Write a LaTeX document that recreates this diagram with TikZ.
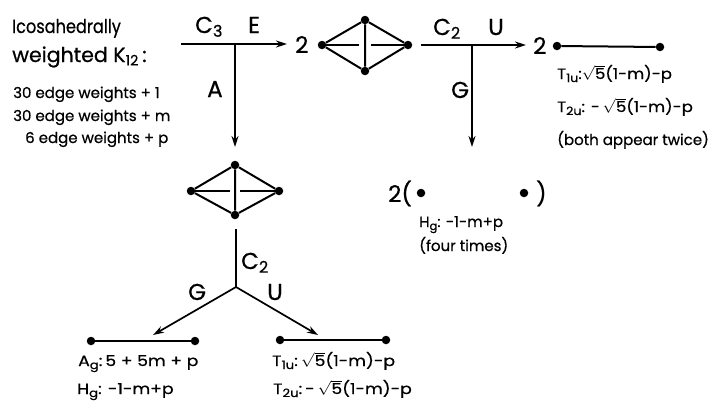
\documentclass[tikz,border=0pt]{standalone}
\usepackage{fontspec}
\setmainfont{Poppins}[FakeBold=0.6]
\usetikzlibrary{arrows.meta}
\tikzset{
  px/.style={x=1pt,y=-1pt},
  vtx/.style={circle,fill=black,inner sep=0pt,minimum size=8.5pt},
  ln/.style={line width=2pt,black},
  arr/.style={line width=1.7pt,black,-{Stealth[length=11pt,width=7pt]}},
  big/.style={font=\fontsize{23}{25}\selectfont,inner sep=0pt,anchor=base west},
  head/.style={font=\fontsize{20.5}{22}\selectfont,inner sep=0pt,anchor=base west},
  headb/.style={font=\fontsize{19}{22}\selectfont,inner sep=0pt,anchor=base west},
  small/.style={font=\fontsize{15}{17}\selectfont,inner sep=0pt,anchor=base west},
}
\newcommand{\rtfive}{$\sqrt{\mathrm{5}}$}
\newcommand{\subt}[1]{\raisebox{-3pt}{\fontsize{11.5}{12}\selectfont #1}}
\newcommand{\wideA}[1]{\scalebox{1.1}[1]{#1}}
\newcommand{\wideB}[1]{\scalebox{1.15}[1]{#1}}
\begin{document}
\begin{tikzpicture}[px]
\useasboundingbox (0,0) rectangle (711,400);
% left text
\node[headb] (t1) at (12,33) {\scalebox{0.85}[1]{Icosahedrally}};
\node[head] (t2) at (12,62) {weighted K$_{\mathrm{12}}$\,:};
\node[small] (w1) at (13,98) {30 edge weights + 1};
\node[small] (w2) at (13,121) {30 edge weights + m};
\node[small] (w3) at (25,143) {6 edge weights + p};
% C3 fork
\coordinate (s1) at (181,44);
\coordinate (j1) at (235,44);
\coordinate (e1) at (287,44);
\coordinate (d1) at (235,147);
\draw[arr] (s1) -- (e1);
\draw[arr] (j1) -- (d1);
\node[big] (c3) at (195,33) {C$_{\mathrm{3}}$};
\node[big] (E) at (248,33) {E};
\node[big] (A) at (207,97) {A};
\node[big] (two1) at (295,53) {2};
% top graph
\node[vtx] (a1) at (322,45) {};
\node[vtx] (a2) at (365,20) {};
\node[vtx] (a3) at (408,45) {};
\node[vtx] (a4) at (365,71) {};
\draw[ln] (a1)--(a2)--(a3)--(a4)--(a1) (a2)--(a4);
\coordinate (ag1) at (359,45);
\coordinate (ag2) at (371,45);
\draw[ln] (a1)--(ag1) (ag2)--(a3);
% C2 fork
\coordinate (s2) at (421,45);
\coordinate (j2) at (472,45);
\coordinate (e2) at (526,45);
\coordinate (d2) at (472,147);
\draw[arr] (s2) -- (e2);
\draw[arr] (j2) -- (d2);
\node[big] (c2a) at (433,35) {C$_{\mathrm{2}}$};
\node[big] (U1) at (488,35) {U};
\node[big] (G1) at (451,98) {G};
\node[big] (two2) at (533,54) {2};
% right edge
\node[vtx] (b1) at (557,46) {};
\node[vtx] (b2) at (660,47) {};
\draw[ln] (b1)--(b2);
\node[small] (r1) at (557,79) {\wideA{T\subt{1u}:\rtfive(1-m)-p}};
\node[small] (r2) at (557,112) {\wideA{T\subt{2u}: -\,\rtfive(1-m)-p}};
\node[small] (r3) at (557,145) {(both appear twice)};
% dots
\node[big] (two3) at (388,202) {2(};
\node[vtx] (c1) at (421,193) {};
\node[vtx] (c2) at (524,193) {};
\node[big] (cp) at (536,202) {)};
\node[small] (h1) at (419,227) {H\subt{g}: -1-m+p};
\node[small] (h2) at (419,251) {(four times)};
% mid graph
\node[vtx] (m1) at (191,191) {};
\node[vtx] (m2) at (235,165) {};
\node[vtx] (m3) at (279,191) {};
\node[vtx] (m4) at (235,215) {};
\draw[ln] (m1)--(m2)--(m3)--(m4)--(m1) (m2)--(m4);
\coordinate (mg1) at (230,191);
\coordinate (mg2) at (240,191);
\draw[ln] (m1)--(mg1) (mg2)--(m3);
% lower fork
\coordinate (t3) at (236,229);
\coordinate (j3) at (236,287);
\coordinate (l3) at (153,335);
\coordinate (r3c) at (318,335);
\draw[ln] (t3)--(j3);
\draw[arr] (j3)--(l3);
\draw[arr] (j3)--(r3c);
\node[big] (c2b) at (241,269) {C$_{\mathrm{2}}$};
\node[big] (G2) at (188,300) {G};
\node[big] (U2) at (267,300) {U};
% bottom edges
\node[vtx] (p1) at (91,341) {};
\node[vtx] (p2) at (195,341) {};
\draw[ln] (p1)--(p2);
\node[vtx] (q1) at (280,340) {};
\node[vtx] (q2) at (386,340) {};
\draw[ln] (q1)--(q2);
\node[small] (ag) at (78,366) {\wideB{A\subt{g}:\,5 + 5m + p}};
\node[small] (hg) at (77,394) {\wideB{H\subt{g}: -1-m+p}};
\node[small] (t1u) at (272,366) {\wideB{T\subt{1u}:\,\rtfive(1-m)-p}};
\node[small] (t2u) at (273,394) {\wideB{T\subt{2u}:\,-\,\rtfive(1-m)-p}};
\end{tikzpicture}
\end{document}
